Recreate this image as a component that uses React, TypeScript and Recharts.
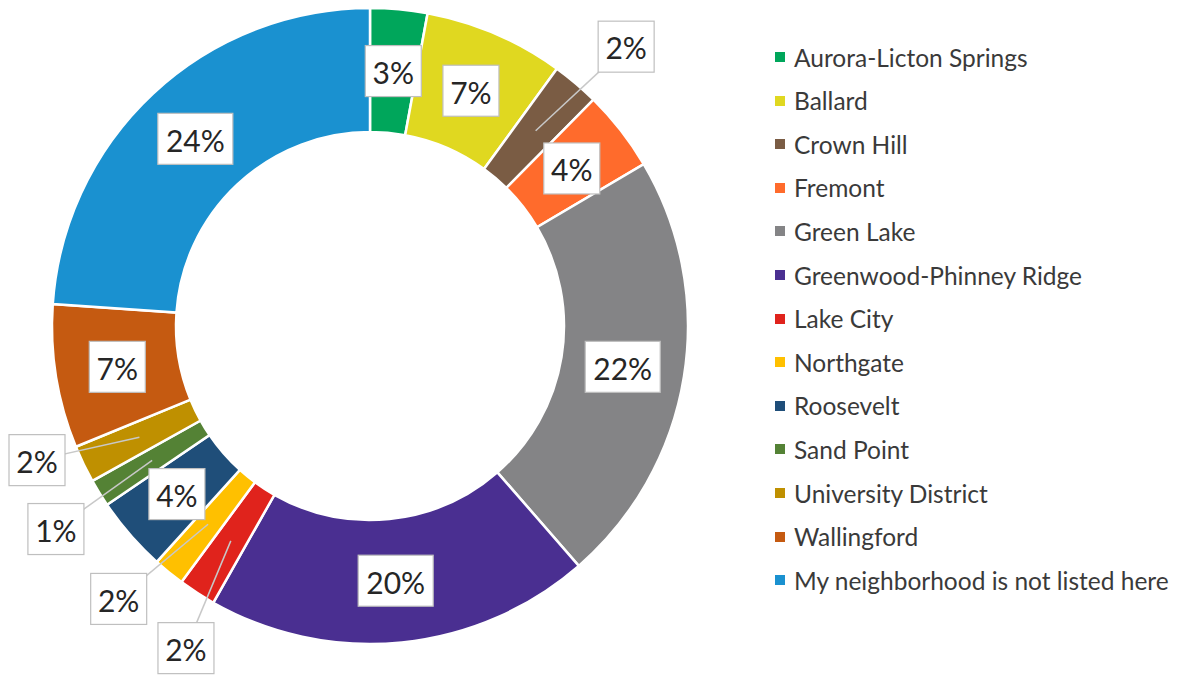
import React from "react";
import { PieChart, Pie, Cell, Legend } from "recharts";

const categories = [
  "Aurora-Licton Springs",
  "Ballard",
  "Crown Hill",
  "Fremont",
  "Green Lake",
  "Greenwood-Phinney Ridge",
  "Lake City",
  "Northgate",
  "Roosevelt",
  "Sand Point",
  "University District",
  "Wallingford",
  "My neighborhood is not listed here",
];

const shares = [2.9, 7.1, 2.4, 4.1, 22.1, 19.6, 1.9, 1.6, 3.8, 1.4, 1.9, 7.3, 23.9];

const colors = [
  "#00A65B",
  "#E0D820",
  "#7A5C44",
  "#FF6B2C",
  "#848486",
  "#4A2F91",
  "#E0231C",
  "#FFC000",
  "#1F4E79",
  "#548235",
  "#BF9000",
  "#C55A11",
  "#1A91D0",
];

// callout label layout (clockwise angle nudge in degrees, distance beyond outer edge)
const calloutLayout: Record<string, { dAngle: number; dr: number }> = {
  "Crown Hill": { dAngle: 2.2, dr: 61 },
  "Lake City": { dAngle: -3.2, dr: 53 },
  "Northgate": { dAngle: 3.4, dr: 53 },
  "Sand Point": { dAngle: -1.2, dr: 56 },
  "University District": { dAngle: 3.8, dr: 41 },
};

const data = categories.map((name, i) => ({ name, value: shares[i] }));

const FONT = "Lato, 'Open Sans', sans-serif";
const RAD = Math.PI / 180;

const renderLabel = (props: any) => {
  const { cx, cy, midAngle, innerRadius, outerRadius, percent, name } = props;
  const text = `${Math.round(percent * 100)}%`;
  const mid = (innerRadius + outerRadius) / 2;
  const co = calloutLayout[name];
  const ang = co ? midAngle - co.dAngle : midAngle;
  const r = co ? outerRadius + co.dr : mid;
  const x = cx + r * Math.cos(-ang * RAD);
  const y = cy + r * Math.sin(-ang * RAD);
  const px = cx + mid * Math.cos(-midAngle * RAD);
  const py = cy + mid * Math.sin(-midAngle * RAD);
  const w = 19 * text.length + 18;
  const h = 51;
  const fs = 30;
  return (
    <g>
      {co && <line x1={px} y1={py} x2={x} y2={y} stroke="#c8c8c8" strokeWidth={1.5} />}
      <rect
        x={x - w / 2}
        y={y - h / 2}
        width={w}
        height={h}
        fill="#ffffff"
        stroke="#bfbfbf"
        strokeWidth={1.2}
      />
      <text
        x={x}
        y={y + 0.36 * fs + 2}
        textAnchor="middle"
        fontSize={fs}
        fill="#262626"
        fontFamily={FONT}
      >
        {text}
      </text>
    </g>
  );
};

const renderLegend = () => (
  <div style={{ fontFamily: FONT }}>
    {categories.map((name, i) => (
      <div
        key={name}
        style={{
          position: "absolute",
          left: 0,
          top: i * 43.6,
          height: 30,
          display: "flex",
          alignItems: "center",
          whiteSpace: "nowrap",
        }}
      >
        <span
          style={{
            display: "inline-block",
            width: 10,
            height: 10,
            background: colors[i],
            marginRight: 9,
          }}
        />
        <span style={{ fontSize: 24.5, color: "#3a3a3a" }}>{name}</span>
      </div>
    ))}
  </div>
);

export default function App() {
  return (
    <div style={{ position: "absolute", left: 0, top: 0, background: "#fff" }}>
      <PieChart width={1178} height={678} margin={{ top: 0, right: 0, bottom: 0, left: 0 }}>
        <Pie
          data={data}
          dataKey="value"
          nameKey="name"
          cx={370}
          cy={326}
          innerRadius={194}
          outerRadius={318}
          startAngle={90}
          endAngle={-270}
          stroke="#ffffff"
          strokeWidth={2.5}
          label={renderLabel}
          labelLine={false}
          isAnimationActive={false}
        >
          {data.map((d, i) => (
            <Cell key={d.name} fill={colors[i]} />
          ))}
        </Pie>
        <Legend
          content={renderLegend}
          wrapperStyle={{ position: "absolute", left: 775, top: 42, width: 400, height: 580 }}
        />
      </PieChart>
    </div>
  );
}
